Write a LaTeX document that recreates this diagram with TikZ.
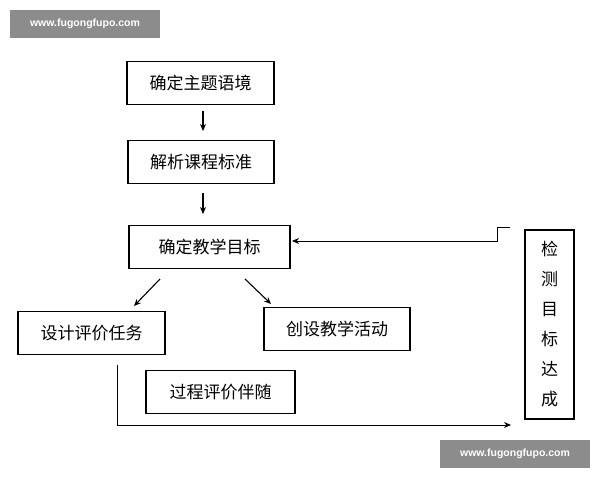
\documentclass[tikz,border=0pt]{standalone}
\usepackage{fontspec}
\setmainfont{Noto Sans CJK SC}
\setsansfont{Liberation Sans}
\usetikzlibrary{arrows.meta, positioning}

\begin{document}
\begin{tikzpicture}[x=1pt, y=-1pt,
  box/.style={draw, line width=1.3pt, minimum height=43pt, font=\fontsize{17}{20}\selectfont, inner sep=0pt},
  arr/.style={-{Stealth[length=7pt, width=6pt]}, line width=1.1pt},
  wmark/.style={fill=black!45, text=white, font=\sffamily\bfseries\fontsize{10.5}{12}\selectfont, minimum width=150pt, minimum height=28pt, inner sep=0pt}]
  \useasboundingbox (0,0) rectangle (600,480);

  % Boxes
  \node[box, minimum width=147pt] (theme) at (200.5,83) {确定主题语境};
  \node[box, minimum width=146pt] (std) at (201,162) {解析课程标准};
  \node[box, minimum width=161pt] (goal) at (209.5,247) {确定教学目标};
  \node[box, minimum width=147pt] (task) at (91.5,333) {设计评价任务};
  \node[box, minimum width=146pt] (act) at (337,329) {创设教学活动};
  \node[box, minimum width=149pt] (proc) at (220.5,392) {过程评价伴随};
  \node[box, minimum width=49pt, minimum height=189pt, align=center, font=\fontsize{17}{30}\selectfont] (test) at (549.5,324.5) {检\\测\\目\\标\\达\\成};

  % Arrows
  \coordinate (a1) at (203,111);
  \coordinate (a2) at (203,131);
  \coordinate (b1) at (203,193);
  \coordinate (b2) at (203,214);
  \draw[arr] (a1) -- (a2);
  \draw[arr] (b1) -- (b2);
  \coordinate (c1) at (160,279);
  \coordinate (c2) at (134,306);
  \coordinate (d1) at (245,279);
  \coordinate (d2) at (271,304);
  \draw[arr] (c1) -- (c2);
  \draw[arr] (d1) -- (d2);

  % Loop lines
  \coordinate (e1) at (117,365);
  \coordinate (e2) at (511,425);
  \draw[arr, line width=0.9pt] (e1) |- (e2);
  \coordinate (f1) at (510,227);
  \coordinate (f2) at (497,241);
  \coordinate (f3) at (292,241);
  \draw[arr, line width=0.9pt] (f1) -- (497,227) -- (f2) -- (f3);

  % Watermarks
  \node[wmark] (wm1) at (85,24) {www.fugongfupo.com};
  \node[wmark] (wm2) at (515,454) {www.fugongfupo.com};
\end{tikzpicture}
\end{document}
